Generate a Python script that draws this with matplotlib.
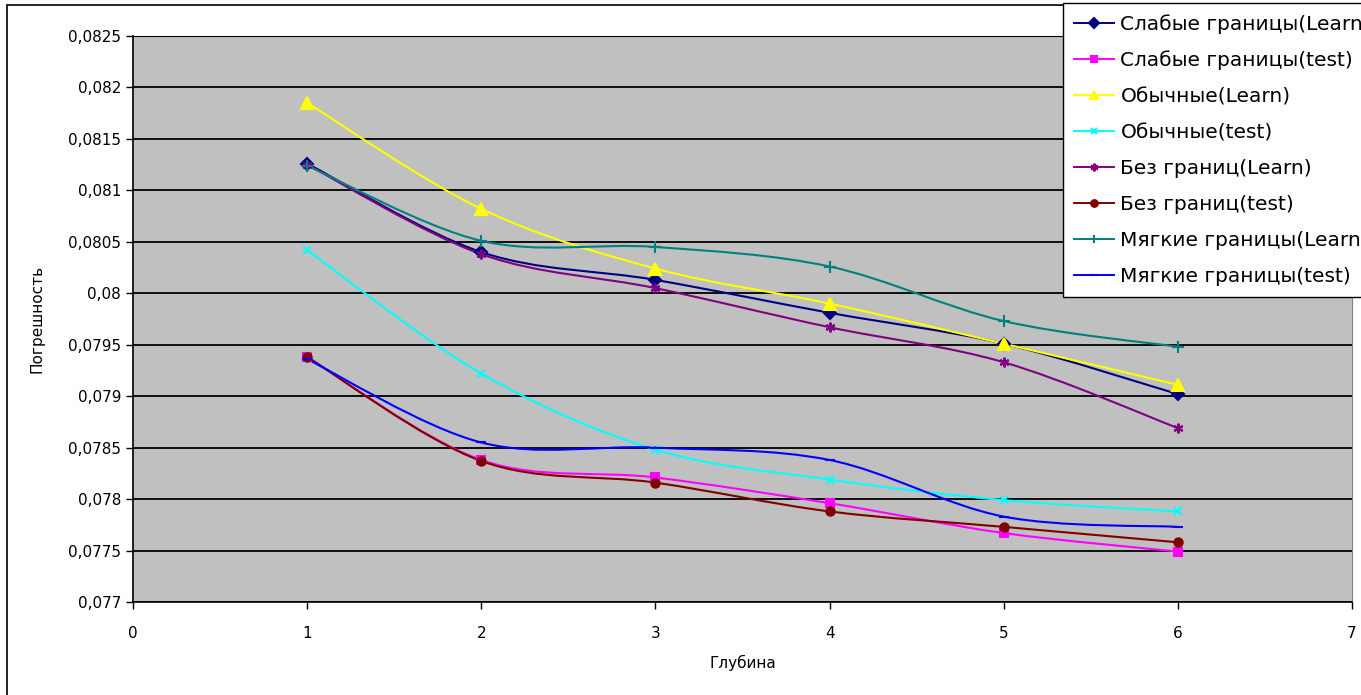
import numpy as np
import matplotlib
matplotlib.use("Agg")
import matplotlib.pyplot as plt
from matplotlib.path import Path
from matplotlib.patches import PathPatch, Rectangle
from matplotlib.lines import Line2D
from matplotlib.ticker import FuncFormatter, MultipleLocator

plt.rcParams['font.family'] = ['DejaVu Sans']

# depth values
depth = [1, 2, 3, 4, 5, 6]

# error values
slab_learn = [0.08126, 0.08040, 0.08013, 0.07981, 0.07951, 0.07902]
slab_test = [0.07938, 0.07838, 0.07821, 0.07796, 0.07767, 0.07749]
obych_learn = [0.08185, 0.08082, 0.08024, 0.07990, 0.07951, 0.07911]
obych_test = [0.08042, 0.07922, 0.07848, 0.07819, 0.07799, 0.07788]
bez_learn = [0.08125, 0.08038, 0.08005, 0.07967, 0.07933, 0.07869]
bez_test = [0.07938, 0.07837, 0.07816, 0.07788, 0.07773, 0.07758]
myag_learn = [0.08124, 0.08051, 0.08045, 0.08026, 0.07973, 0.07948]
myag_test = [0.07936, 0.07855, 0.07850, 0.07838, 0.07783, 0.07773]

labels = ['Слабые границы(Learn)', 'Слабые границы(test)',
          'Обычные(Learn)', 'Обычные(test)',
          'Без границ(Learn)', 'Без границ(test)',
          'Мягкие границы(Learn)', 'Мягкие границы(test)']

series = [slab_learn, slab_test, obych_learn, obych_test,
          bez_learn, bez_test, myag_learn, myag_test]

colors = ['#000080', '#FF00FF', '#FFFF00', '#00FFFF',
          '#800080', '#800000', '#008080', '#0000FF']
markers = ['D', 's', '^', 'x', (6, 2, 0), 'o', '+', '_']
msizes = [6, 6, 8, 6, 7, 6, 8, 7]


def smooth_path(xs, ys):
    """Excel-like smoothed line as cubic bezier segments (catmull-rom)."""
    pts = np.column_stack([xs, ys]).astype(float)
    verts = [pts[0]]
    codes = [Path.MOVETO]
    n = len(pts)
    for i in range(n - 1):
        p0 = pts[i - 1] if i > 0 else pts[i]
        p1 = pts[i]
        p2 = pts[i + 1]
        p3 = pts[i + 2] if i + 2 < n else pts[i + 1]
        c1 = p1 + (p2 - p0) / 6.0
        c2 = p2 - (p3 - p1) / 6.0
        verts += [c1, c2, p2]
        codes += [Path.CURVE4] * 3
    return Path(verts, codes)


fig = plt.figure(figsize=(13.61, 6.95), dpi=100)
ax = fig.add_axes([133 / 1361, 1 - 602 / 695, (1352 - 133) / 1361, (602 - 36) / 695])
ax.set_facecolor('#C0C0C0')

for vals, c, m, ms in zip(series, colors, markers, msizes):
    ax.add_patch(PathPatch(smooth_path(depth, vals), facecolor='none',
                           edgecolor=c, lw=1.5, zorder=3))
    ax.plot(depth, vals, linestyle='none', marker=m, color=c, ms=ms,
            mew=1.5, zorder=4)

ax.set_xlim(0, 7)
ax.set_ylim(0.077, 0.0825)
ax.xaxis.set_major_locator(MultipleLocator(1))
ax.yaxis.set_major_locator(MultipleLocator(0.0005))


def comma_fmt(v, pos):
    s = f"{v:.4f}".rstrip('0').rstrip('.')
    return s.replace('.', ',')


ax.yaxis.set_major_formatter(FuncFormatter(comma_fmt))
ax.grid(axis='y', color='black', lw=1.3)
ax.set_axisbelow(True)
ax.tick_params(direction='out', length=5, width=1, colors='black',
               labelsize=11)
ax.tick_params(axis='x', pad=12)
for side in ['left', 'bottom']:
    ax.spines[side].set_color('black')
    ax.spines[side].set_linewidth(1.2)
ax.spines['top'].set_color('black')
ax.spines['right'].set_color('#808080')

ax.set_xlabel('Глубина', fontsize=11, labelpad=10)
ax.set_ylabel('Погрешность', fontsize=11, labelpad=17)

# legend, partly cut off on the right like the original
handles = [Line2D([], [], color=c, marker=m, ms=ms * 0.8, mew=1.5, lw=1.4)
           for c, m, ms in zip(colors, markers, msizes)]
leg = fig.legend(handles, labels, loc='upper left',
                 bbox_to_anchor=(1063 / 1361, 1 - 3 / 695),
                 bbox_transform=fig.transFigure, borderaxespad=0,
                 fontsize=14.5, frameon=True, fancybox=False,
                 edgecolor='black', framealpha=1, labelspacing=0.84,
                 handlelength=2.0, handletextpad=0.3, borderpad=0.55)
leg.get_frame().set_linewidth(1.0)

# outer chart border
fig.patches.append(Rectangle((7 / 1361, -0.01), 1.0, 1 - 5 / 695 + 0.01,
                             transform=fig.transFigure, fill=False,
                             edgecolor='black', lw=1.2))

fig.savefig('out.png', dpi=100)
